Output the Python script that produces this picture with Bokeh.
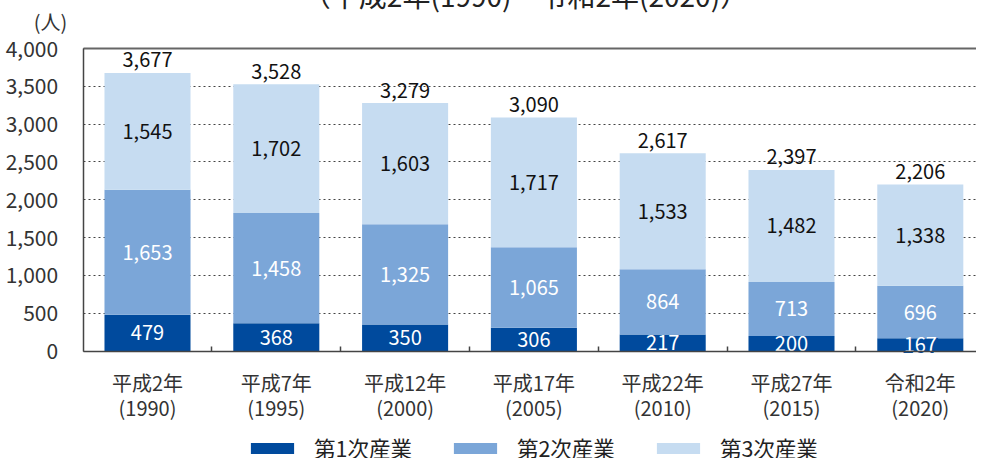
from bokeh.plotting import figure
from bokeh.models import (ColumnDataSource, FixedTicker, Legend, LegendItem, Label,
                          Range1d, NumeralTickFormatter, LinearAxis, Grid)
from bokeh.core.properties import value
from bokeh.embed import file_html
from bokeh.resources import INLINE

# ---- data ----
eras = ["平成2年", "平成7年", "平成12年", "平成17年", "平成22年", "平成27年", "令和2年"]
years = ["(1990)", "(1995)", "(2000)", "(2005)", "(2010)", "(2015)", "(2020)"]
primary = [479, 368, 350, 306, 217, 200, 167]
secondary = [1653, 1458, 1325, 1065, 864, 713, 696]
tertiary = [1545, 1702, 1603, 1717, 1533, 1482, 1338]
totals = [3677, 3528, 3279, 3090, 2617, 2397, 2206]
series_names = ["第1次産業", "第2次産業", "第3次産業"]
title_text = "（平成2年(1990)～令和2年(2020)）"
unit_text = "(人)"
y_ticks = [0, 500, 1000, 1500, 2000, 2500, 3000, 3500, 4000]

FONT_NAME = "Noto Sans CJK JP"
FONT = value(FONT_NAME)
colors = ["#004a9d", "#7ba6d8", "#c6dcf1"]
AXIS_COLOR = "#444444"

n = len(eras)
xs = [i + 0.5 for i in range(n)]
y_top = y_ticks[-1]

src = ColumnDataSource(dict(x=xs, s1=primary, s2=secondary, s3=tertiary))

# canvas geometry (px): whole canvas is the frame; axes are fixed inside it
W, H = 984, 471
X0_PX, BAND_PX = 90.6, 128.8          # canvas x of category origin, px per category
Y0_PX, YTOP_PX = 363.5, 61.0          # canvas y of value 0 and of the top value
ppu_y = (Y0_PX - YTOP_PX) / y_top

x_start = -X0_PX / BAND_PX
x_end = (W - X0_PX) / BAND_PX
y_end = y_top + YTOP_PX / ppu_y
y_start = -(H - Y0_PX) / ppu_y

def dx(px):
    return (px - X0_PX) / BAND_PX

def dy(py):
    return (Y0_PX - py) / ppu_y

p = figure(width=W, height=H, output_backend="svg", toolbar_location=None,
           x_range=Range1d(x_start, x_end), y_range=Range1d(y_start, y_end),
           x_axis_location=None, y_axis_location=None, title_location=None,
           min_border=0)
p.styles = {"margin-top": "-13px", "margin-left": "-8px", "margin-bottom": "-8px"}
p.outline_line_color = None
p.background_fill_color = "white"
p.border_fill_color = "white"
p.xgrid.visible = False
p.ygrid.visible = False

rs = p.vbar_stack(["s1", "s2", "s3"], x="x", width=0.668, color=colors,
                  line_color=None, source=src)

# dotted horizontal grid
grid = Grid(dimension=1, ticker=FixedTicker(ticks=y_ticks), cross_bounds=(0, x_end),
            grid_line_color="#444444", grid_line_dash="2 3", grid_line_width=1)
p.add_layout(grid)

# y axis
yaxis = LinearAxis(fixed_location=0, ticker=FixedTicker(ticks=y_ticks), bounds=(0, y_top),
                   formatter=NumeralTickFormatter(format="0,0"))
yaxis.major_tick_line_color = None
yaxis.minor_tick_line_color = None
yaxis.major_label_standoff = 19
yaxis.axis_line_color = AXIS_COLOR
yaxis.axis_line_width = 1.5
yaxis.major_label_text_font = FONT_NAME
yaxis.major_label_text_font_size = "21px"
yaxis.major_label_text_color = "#333333"
p.add_layout(yaxis, "left")

# x axis
xaxis = LinearAxis(fixed_location=0, ticker=FixedTicker(ticks=xs, minor_ticks=list(range(1, n))),
                   bounds=(0, x_end))
xaxis.major_label_overrides = {x: f"{e}\n{y}" for x, e, y in zip(xs, eras, years)}
xaxis.major_tick_line_color = None
xaxis.minor_tick_in = 5
xaxis.minor_tick_out = 0
xaxis.minor_tick_line_color = AXIS_COLOR
xaxis.minor_tick_line_width = 1.5
xaxis.axis_line_color = AXIS_COLOR
xaxis.axis_line_width = 1.5
xaxis.major_label_standoff = 11
xaxis.major_label_text_font = FONT_NAME
xaxis.major_label_text_font_size = "20px"
xaxis.major_label_text_color = "#333333"
xaxis.major_label_text_line_height = 0.85
p.add_layout(xaxis, "below")

# top border line
top_axis = LinearAxis(fixed_location=y_top, ticker=FixedTicker(ticks=[]), bounds=(0, x_end))
top_axis.axis_line_color = "#666666"
top_axis.axis_line_width = 2
top_axis.major_tick_line_color = None
top_axis.minor_tick_line_color = None
p.add_layout(top_axis, "above")

# value labels
c1 = [a / 2 for a in primary]
c2 = [a + b / 2 for a, b in zip(primary, secondary)]
c3 = [a + b + c / 2 for a, b, c in zip(primary, secondary, tertiary)]
fmt = lambda v: f"{v:,}"

# dark halo behind the first-sector labels
p.text(x=xs, y=c1, text=[fmt(v) for v in primary], text_align="center",
       text_baseline="middle", text_color=colors[0], text_font=FONT,
       text_font_style="bold", text_font_size=value("21px"))
p.text(x=xs, y=c1, text=[fmt(v) for v in primary], text_align="center",
       text_baseline="middle", text_color="white", text_font=FONT,
       text_font_size=value("20px"))
p.text(x=xs, y=c2, text=[fmt(v) for v in secondary], text_align="center",
       text_baseline="middle", text_color="white", text_font=FONT,
       text_font_size=value("20px"))
p.text(x=xs, y=c3, text=[fmt(v) for v in tertiary], text_align="center",
       text_baseline="middle", text_color="#111111", text_font=FONT,
       text_font_size=value("20px"))
p.text(x=xs, y=totals, text=[fmt(v) for v in totals], text_align="center",
       text_baseline="middle", y_offset=-13, text_color="#111111", text_font=FONT,
       text_font_size=value("20px"))

# unit and (cut) title
p.add_layout(Label(x=dx(58), y=dy(34), text=unit_text, text_align="center",
                   text_baseline="middle", text_font=FONT_NAME, text_font_size="20px",
                   text_color="#333333"))
p.add_layout(Label(x=dx(533), y=dy(7.5), text=title_text, text_align="center",
                   text_baseline="alphabetic", text_font=FONT_NAME, text_font_size="28px",
                   text_color="#222222"))

legend = Legend(items=[LegendItem(label=nm, renderers=[r]) for nm, r in zip(series_names, rs)],
                orientation="horizontal", location=(253, -5),
                glyph_width=54, glyph_height=14, label_standoff=15, spacing=36,
                padding=0, margin=0, border_line_color=None, background_fill_alpha=0,
                label_text_font=FONT_NAME, label_text_font_size="21.5px",
                label_text_color="#222222")
p.add_layout(legend, "center")

open("out.html", "w").write(file_html(p, INLINE))
